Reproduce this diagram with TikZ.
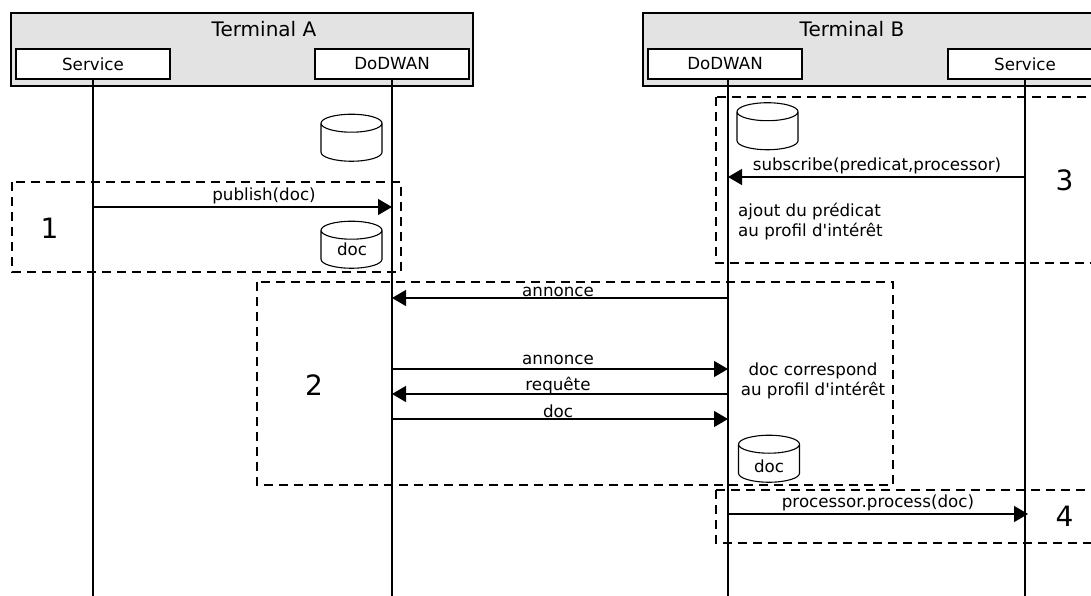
\documentclass[tikz,border=0pt]{standalone}
\usepackage{fontspec}
\setmainfont{DejaVu Sans}
\usepackage{xcolor}
\usetikzlibrary{shapes.geometric,arrows.meta}
\definecolor{termgray}{HTML}{E3E3E3}
\tikzset{
  terminal/.style={draw,fill=termgray,line width=1.3pt,inner sep=0pt,minimum height=73pt},
  entity/.style={draw,fill=white,line width=1.2pt,inner sep=0pt,minimum width=154pt,minimum height=30pt,font=\fontsize{16.7}{20}\selectfont},
  stock/.style={draw,fill=white,cylinder,shape border rotate=90,aspect=1.0,line width=1.1pt,inner sep=0pt,minimum width=61pt,minimum height=47pt},
  message/.style={line width=1.3pt,-{Triangle[length=14pt,width=16pt]}},
  lifeline/.style={line width=1.3pt},
  phase/.style={draw,dash pattern=on 9pt off 6pt,line width=1.1pt},
  txt/.style={inner sep=0pt,font=\fontsize{16.7}{20}\selectfont},
  title/.style={inner sep=0pt,font=\fontsize{20}{24}\selectfont},
  num/.style={inner sep=0pt,font=\fontsize{28}{32}\selectfont}
}
\begin{document}
\begin{tikzpicture}[x=1pt,y=-1pt]
  \useasboundingbox (0,0) rectangle (1091,596);
  \clip (0,0) rectangle (1091,596);
  % terminals
  \node[terminal,minimum width=462pt] (termA) at (242,49.5) {};
  \node[terminal,minimum width=480pt] (termB) at (883,49.5) {};
  \node[title] (titleA) at (264,29) {Terminal A};
  \node[title] (titleB) at (852,29) {Terminal B};
  \node[entity] (servA) at (93,64) {\raisebox{-1pt}{Service}};
  \node[entity] (dodA) at (392,64) {\raisebox{-1pt}{DoDWAN}};
  \node[entity] (dodB) at (725,64) {\raisebox{-1pt}{DoDWAN}};
  \node[entity] (servB) at (1025,64) {\raisebox{-1pt}{Service}};
  % bottom of the lifelines
  \coordinate (endservA) at (93,596);
  \coordinate (enddodA) at (392,596);
  \coordinate (enddodB) at (728,596);
  \coordinate (endservB) at (1025,596);
  \draw[lifeline] (servA.south) -- (endservA);
  \draw[lifeline] (dodA.south) -- (enddodA);
  \draw[lifeline] (dodB.south -| enddodB) -- (enddodB);
  \draw[lifeline] (servB.south) -- (endservB);
  % stores
  \node[stock] (storeA) at (351.5,142.5) {\phantom{doc}};
  \node[stock] (storeAdoc) at (351.5,249.5) {\phantom{doc}};
  \node[stock] (storeB) at (767.5,131) {\phantom{doc}};
  \node[stock] (storeBdoc) at (769,463.5) {\phantom{doc}};
  \node[txt] (docA) at (352,249) {doc};
  \node[txt] (docB) at (769,466) {doc};
  % messages
  \coordinate (a1) at (93,207);
  \coordinate (a2) at (392,207);
  \coordinate (b1) at (728,298);
  \coordinate (b2) at (392,298);
  \coordinate (c1) at (392,369);
  \coordinate (c2) at (728,369);
  \coordinate (d1) at (728,394);
  \coordinate (d2) at (392,394);
  \coordinate (e1) at (392,419);
  \coordinate (e2) at (728,419);
  \coordinate (f1) at (1025,177);
  \coordinate (f2) at (728,177);
  \coordinate (g1) at (728,514);
  \coordinate (g2) at (1028,514);
  \draw[message] (a1) -- (a2);
  \draw[message] (b1) -- (b2);
  \draw[message] (c1) -- (c2);
  \draw[message] (d1) -- (d2);
  \draw[message] (e1) -- (e2);
  \draw[message] (f1) -- (f2);
  \draw[message] (g1) -- (g2);
  \node[txt] (publish) at (264,195.5) {publish(doc)};
  \node[txt] (annonceA) at (558,291.5) {annonce};
  \node[txt] (annonceB) at (558,359.5) {annonce};
  \node[txt] (requete) at (558,385.5) {requête};
  \node[txt] (docmsg) at (558,411.5) {doc};
  \node[txt] (subscribe) at (877,165.5) {subscribe(predicat,processor)};
  \node[txt] (process) at (878,502.5) {processor.process(doc)};
  \node[txt,align=left,anchor=west] (ajout) at (738,222) {ajout du prédicat\\au profil d\textquotesingle intérêt};
  \node[txt,align=center] (corresp) at (813,381) {doc correspond\\au profil d\textquotesingle intérêt};
  % phases
  \draw[phase] (12,182) rectangle (401,272);
  \draw[phase] (257,282) rectangle (893,485);
  \draw[phase] (716,97) rectangle (1110,263);
  \draw[phase] (716,490) rectangle (1110,543);
  \node[num] (n1) at (49.5,228) {1};
  \node[num] (n2) at (314,385) {2};
  \node[num] (n3) at (1064.5,180) {3};
  \node[num] (n4) at (1064.5,516) {4};
\end{tikzpicture}
\end{document}
